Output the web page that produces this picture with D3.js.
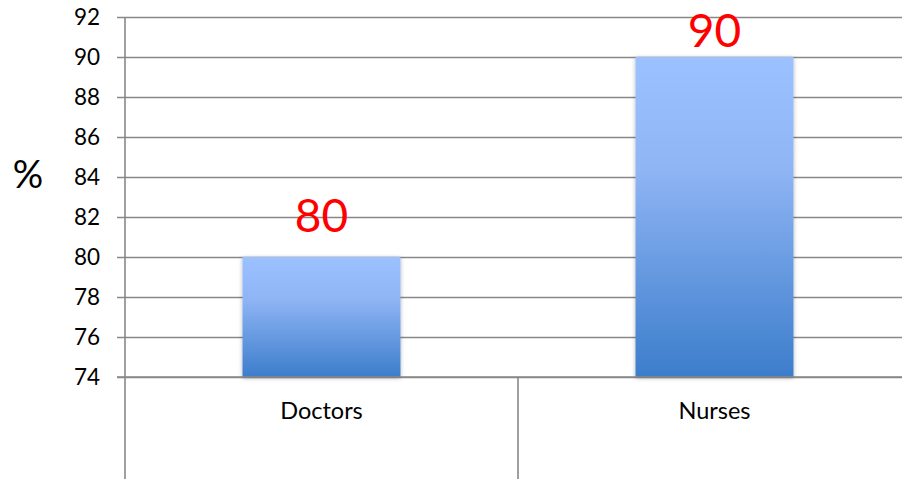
<!DOCTYPE html>
<html><head><meta charset="utf-8">
<script src="https://cdn.jsdelivr.net/npm/d3@7"></script>
<style>body{margin:0;background:#fff;}svg{display:block;}</style>
</head><body>
<script>
const categories = ["Doctors", "Nurses"];
const values = [80, 90];
const yTicks = [74, 76, 78, 80, 82, 84, 86, 88, 90, 92];
const yLabel = "%";

const W = 902, H = 479;
const svg = d3.select("body").append("svg").attr("width", W).attr("height", H);
const font = "Lato, 'Open Sans', sans-serif";

const x = d3.scaleBand().domain(categories).range([125, 911]).padding(0);
const y = d3.scaleLinear().domain([74, 92]).range([377, 17]);

const defs = svg.append("defs");
const grad = defs.append("linearGradient").attr("id", "g").attr("x1", 0).attr("y1", 0).attr("x2", 0).attr("y2", 1);
grad.append("stop").attr("offset", "0%").attr("stop-color", "#9cc1ff");
grad.append("stop").attr("offset", "35%").attr("stop-color", "#8fb5f5");
grad.append("stop").attr("offset", "100%").attr("stop-color", "#3c7dcb");
const f = defs.append("filter").attr("id", "sh").attr("x", "-10%").attr("y", "-10%").attr("width", "120%").attr("height", "120%");
f.append("feDropShadow").attr("dx", 0).attr("dy", 1).attr("stdDeviation", 2).attr("flood-color", "#000").attr("flood-opacity", 0.3);

// gridlines with ticks
const yAxis = d3.axisLeft(y).tickValues(yTicks).tickSize(-(W - 117)).tickPadding(17).tickFormat(d3.format("d"));
const ga = svg.append("g").attr("transform", "translate(117,0)").call(yAxis);
ga.select(".domain").remove();
ga.selectAll(".tick line").attr("stroke", "#888").attr("stroke-width", 1.6);
ga.selectAll(".tick text").attr("font-family", font).attr("font-size", 22.5).attr("fill", "#000");

// y axis line
svg.append("line").attr("x1", 125).attr("x2", 125).attr("y1", y(92)).attr("y2", H)
  .attr("stroke", "#888").attr("stroke-width", 1.6);

// category separators
categories.slice(1).forEach(c => {
  svg.append("line").attr("x1", x(c)).attr("x2", x(c)).attr("y1", y(74)).attr("y2", H)
    .attr("stroke", "#888").attr("stroke-width", 1.6);
});

// bars
const bw = x.bandwidth() * 0.402;
svg.selectAll("rect.bar").data(values).join("rect").attr("class", "bar")
  .attr("x", (d, i) => x(categories[i]) + (x.bandwidth() - bw) / 2)
  .attr("width", bw)
  .attr("y", d => y(d))
  .attr("height", d => y(74) - y(d))
  .attr("fill", "url(#g)")
  .attr("filter", "url(#sh)");

// redraw x axis baseline over bars
svg.append("line").attr("x1", 117).attr("x2", W).attr("y1", y(74)).attr("y2", y(74))
  .attr("stroke", "#888").attr("stroke-width", 1.6);

// data labels (kept inside the plot area at the top)
svg.selectAll("text.val").data(values).join("text").attr("class", "val")
  .attr("x", (d, i) => x(categories[i]) + x.bandwidth() / 2)
  .attr("y", d => Math.max(y(d) - 25, 47))
  .attr("text-anchor", "middle")
  .attr("font-family", font).attr("font-size", 46).attr("fill", "#ff0000")
  .text(d => d);

// category labels
svg.selectAll("text.cat").data(categories).join("text").attr("class", "cat")
  .attr("x", d => x(d) + x.bandwidth() / 2)
  .attr("y", 419)
  .attr("text-anchor", "middle")
  .attr("font-family", font).attr("font-size", 23.5).attr("fill", "#000")
  .text(d => d);

// y label
svg.append("text").attr("x", 28).attr("y", 188).attr("text-anchor", "middle")
  .attr("font-family", font).attr("font-size", 38).attr("fill", "#000").text(yLabel);
</script>
</body></html>
